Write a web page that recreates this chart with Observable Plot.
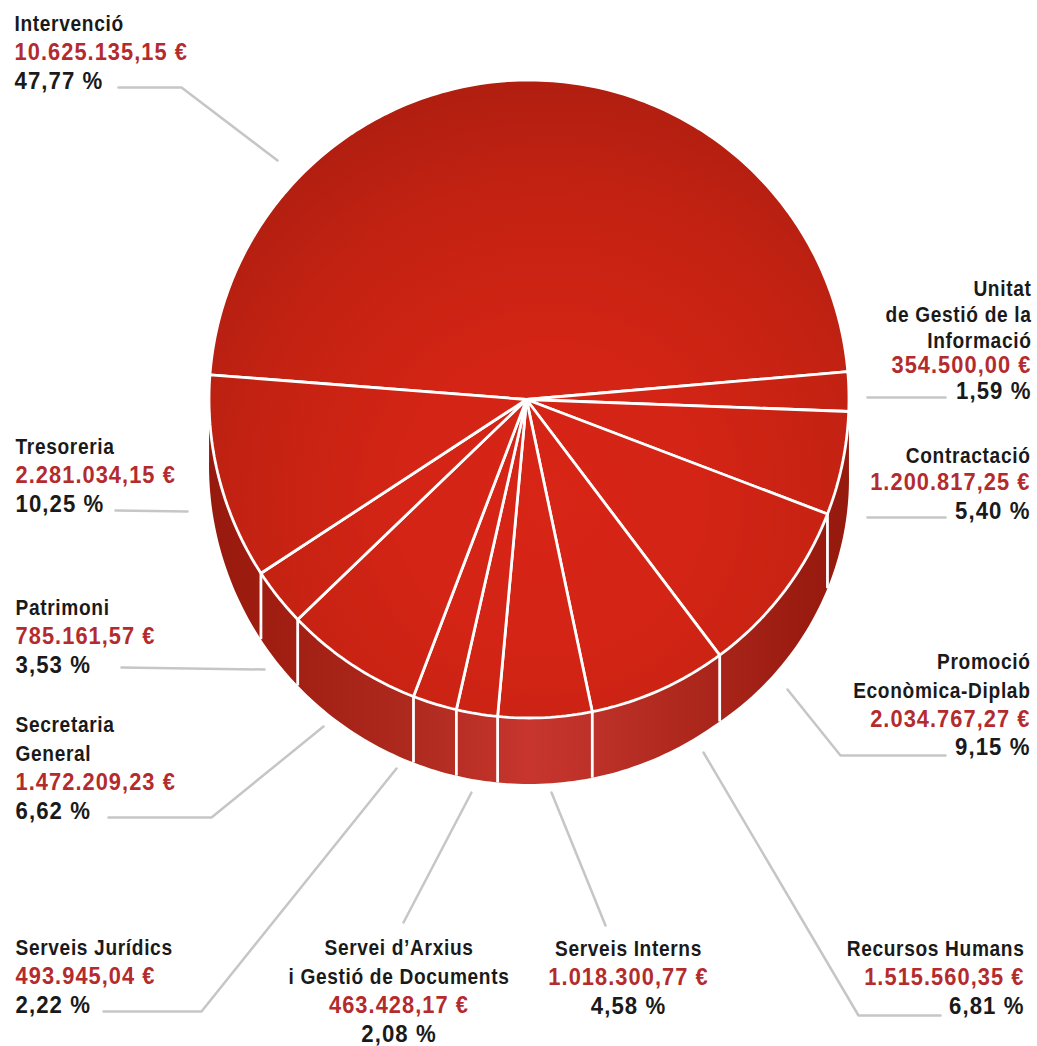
<!DOCTYPE html>
<html>
<head>
<meta charset="utf-8">
<script src="https://cdn.jsdelivr.net/npm/d3@7"></script>
<script src="https://cdn.jsdelivr.net/npm/@observablehq/plot@0.6"></script>
<style>
html,body{margin:0;padding:0;background:#fff}
svg{display:block}
.n text,text.n{letter-spacing:.75px}
.a text,text.a{letter-spacing:1.1px}
.p text,text.p{letter-spacing:1.1px}
</style>
</head>
<body>
<div id="chart"></div>
<script>
const names = [["Intervenció"],["Unitat","de Gestió de la","Informació"],["Contractació"],["Promoció","Econòmica-Diplab"],["Recursos Humans"],["Serveis Interns"],["Servei d’Arxius","i Gestió de Documents"],["Serveis Jurídics"],["Secretaria","General"],["Patrimoni"],["Tresoreria"]];
const amounts = [10625135.15,354500.00,1200817.25,2034767.27,1515560.35,1018300.77,463428.17,493945.04,1472209.23,785161.57,2281034.15];
const percents = [47.77,1.59,5.40,9.15,6.81,4.58,2.08,2.22,6.62,3.53,10.25];

// layout only
const anchors = ["start","end","end","end","end","middle","middle","start","start","start","start"];
const labelX = [14,1031,1030,1030,1024,628,398.5,15,15,15,15];
const labelY = [23,288,455,661,948,948,947,947,724,607,446];
const lineSteps = [[29,29],[26,26,25,26],[27,29],[29,29,28],[29,29],[29,29],[29,29,29],[29,29],[29,29,29],[29,29],[29,29]];
const leaders = [
  [[118,87],[181,87],[277,160]],
  [[867,397],[945,397]],
  [[867,517],[945,517]],
  [[787,689],[840,755],[945,755]],
  [[703,752],[858,1015],[940,1015]],
  [[551,792],[605,925]],
  [[471,792],[403,922]],
  [[396,768],[201,1011],[103,1011]],
  [[323,726],[211,817],[108,817]],
  [[264,669],[121,667]],
  [[115,510],[187,511]]
];
const cx = 528.5, cy = 398.5, rx = 320, ry = 319, startDeg = -85.65;
const apex = [526, 399];
// the reference's slice edges sit a little off exact proportion: degrees, per slice end
const edgeShift = [-0.9,0.55,0,-0.65,0,0.55,0.55,0.6,1.9,-0.2,0];
// the pie's wall is deeper toward the right, in the reference's perspective
const wall = deg => 66 + 12 * Math.max(0, (145 - deg) / 50);

const total = d3.sum(percents);
const rim = (deg, drop = 0) => {
  const a = deg * Math.PI / 180;
  return {x: cx + rx * Math.sin(a), y: cy - ry * Math.cos(a) + drop};
};
const arc = (a0, a1, bottom = false) => {
  const n = Math.max(2, Math.ceil(Math.abs(a1 - a0)));
  return d3.range(n + 1).map(i => {
    const a = a0 + (a1 - a0) * i / n;
    return rim(a, bottom ? wall(a) : 0);
  });
};

let acc = -86;
const edges = percents.map((p, i) => { acc += p / total * 360; return acc + edgeShift[i]; });
const bounds = edges.map((e, i) => [i ? edges[i - 1] : startDeg, e]);
bounds[bounds.length - 1][1] = 360 + startDeg;

const slices = bounds.flatMap(([a0, a1], i) => {
  const c = {x: apex[0], y: apex[1]};
  return [c, ...arc(a0, a1), c].map(p => ({...p, slice: i}));
});
const side = [...arc(89, 271), ...arc(271, 89, true)];
const separators = edges.filter(a => a > 100 && a < 260)
  .map(a => ({p: rim(a), q: rim(a, wall(a))}));

const loc = d3.formatLocale({decimal: ",", thousands: ".", grouping: [3]});
const fmt = loc.format(",.2f");
const pct = loc.format(".2f");

const rows = names.flatMap((nm, i) => {
  const lines = [...nm.map(t => ({t, k: "n"})), {t: fmt(amounts[i]) + " €", k: "a"}, {t: pct(percents[i]) + " %", k: "p"}];
  let y = labelY[i];
  return lines.map((l, j) => {
    if (j > 0) y += lineSteps[i][j - 1];
    return {...l, x: labelX[i], y, anchor: anchors[i]};
  });
});
const leaderRows = leaders.flatMap((pts, i) => pts.map(([x, y]) => ({x, y, i})));

const defs = () => {
  const d = d3.create("svg:defs");
  const r = d.append("radialGradient").attr("id", "top").attr("gradientUnits", "userSpaceOnUse")
    .attr("cx", 550).attr("cy", 500).attr("r", 440);
  [[0, "#d72516"], [0.35, "#d32415"], [0.7, "#c32212"], [1, "#ad1e10"]].forEach(([o, c]) =>
    r.append("stop").attr("offset", o).attr("stop-color", c));
  const l = d.append("linearGradient").attr("id", "side").attr("gradientUnits", "userSpaceOnUse")
    .attr("x1", 208).attr("x2", 849).attr("y1", 0).attr("y2", 0);
  [[0, "#97190d"], [0.1, "#a01d11"], [0.32, "#ae2a1f"], [0.5, "#c7352e"], [0.6, "#bd3128"], [0.8, "#a82419"], [0.93, "#9a1b10"], [1, "#971a0e"]].forEach(([o, c]) =>
    l.append("stop").attr("offset", o).attr("stop-color", c));
  return d.node();
};

// no condensed face is installed: narrow each label about its own anchor
const narrow = sx => (index, scales, values, dimensions, context, next) => {
  const g = next(index, scales, values, dimensions, context);
  g.querySelectorAll("text").forEach(t => {
    t.setAttribute("transform", `${t.getAttribute("transform") || ""} scale(${sx},1)`);
  });
  return g;
};
const widths = {n: 0.87, a: 0.95, p: 0.965};

const textMarks = ["n", "a", "p"].flatMap(k => ["start", "middle", "end"].map(anchor =>
  Plot.text(rows.filter(r => r.k === k && r.anchor === anchor), {
    x: "x", y: "y", text: "t", textAnchor: anchor, lineAnchor: "middle",
    fontFamily: "'Liberation Sans',Arial,sans-serif",
    fontWeight: "bold", fontSize: k === "n" ? 22 : 23,
    fill: k === "a" ? "#b42b2e" : "#1a1a1a", className: k,
    render: narrow(widths[k])
  })));

const chart = Plot.plot({
  width: 1037, height: 1046,
  margin: 0,
  x: {domain: [0, 1037], range: [0, 1037], axis: null},
  y: {domain: [0, 1046], range: [0, 1046], axis: null},
  marks: [
    defs,
    Plot.line(side, {x: "x", y: "y", fill: "url(#side)", stroke: "none"}),
    Plot.link(separators, {x1: d => d.p.x, y1: d => d.p.y, x2: d => d.q.x, y2: d => d.q.y, stroke: "#fff", strokeWidth: 2.8}),
    Plot.line(slices, {x: "x", y: "y", z: "slice", fill: "url(#top)", stroke: "#fff", strokeWidth: 2.8, strokeLinejoin: "miter"}),
    Plot.line(leaderRows, {x: "x", y: "y", z: "i", stroke: "#c6c6c6", strokeWidth: 2.5, strokeLinejoin: "miter"}),
    ...textMarks
  ]
});
document.getElementById("chart").append(chart);
</script>
</body>
</html>
